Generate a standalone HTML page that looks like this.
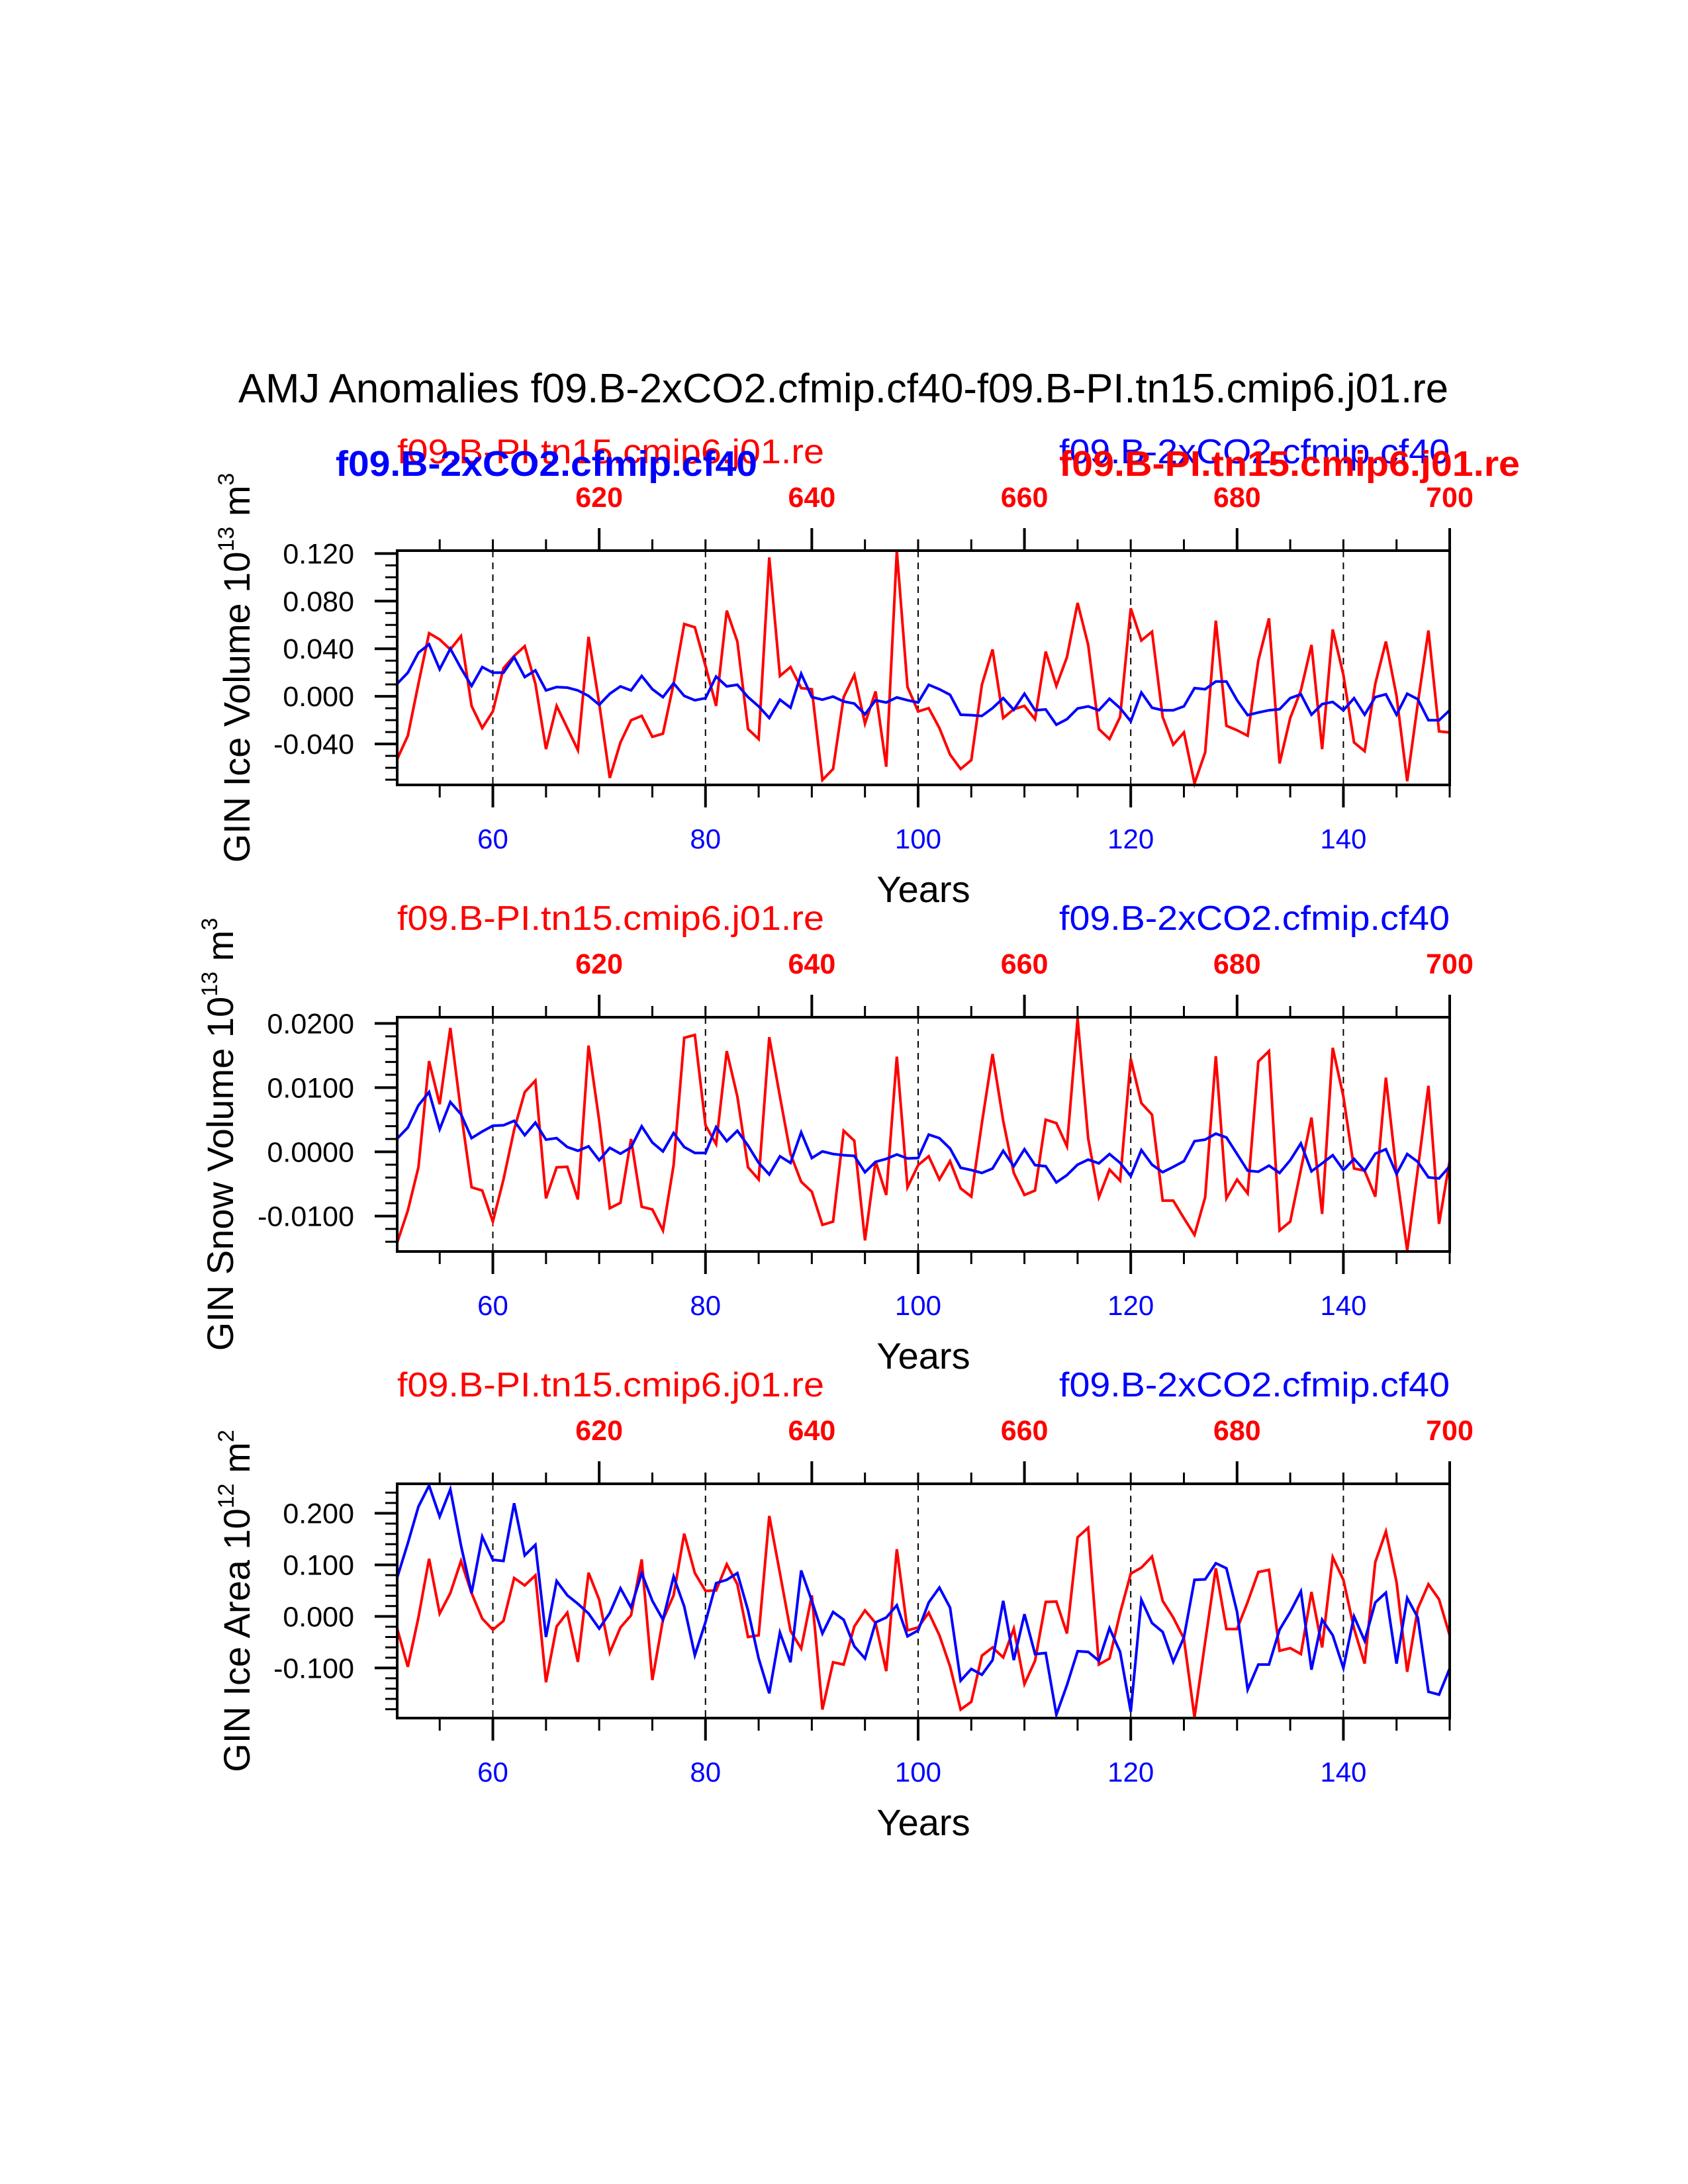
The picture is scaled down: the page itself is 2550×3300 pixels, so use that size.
<!DOCTYPE html>
<html><head><meta charset="utf-8"><title>AMJ Anomalies</title>
<style>html,body{margin:0;padding:0;background:#fff}svg{display:block}text{font-family:"Liberation Sans",Arial,sans-serif}</style>
</head><body>
<svg id="chart" xmlns="http://www.w3.org/2000/svg" width="2550" height="3300" viewBox="0 0 2550 3300">
<rect width="2550" height="3300" fill="#fff"/>
<text x="360" y="608" font-size="62" textLength="1828" lengthAdjust="spacingAndGlyphs">AMJ Anomalies f09.B-2xCO2.cfmip.cf40-f09.B-PI.tn15.cmip6.j01.re</text>
<g id="plots"></g>
</svg>
<script>
// ---- data (years 51..150 for 2xCO2; 601..700 for PI) ----
const yearsStart = 51;
const iceVolRed = [-0.0527,-0.0331,0.0106,0.0530,0.0478,0.0394,0.0506,-0.0080,-0.0266,-0.0127,0.0236,0.0339,0.0422,0.0106,-0.0443,-0.0080,-0.0266,-0.0452,0.0500,-0.0061,-0.0685,-0.0387,-0.0201,-0.0164,-0.0340,-0.0313,0.0106,0.0608,0.0580,0.0255,-0.0080,0.0720,0.0460,-0.0275,-0.0359,0.1167,0.0171,0.0246,0.0069,0.0060,-0.0703,-0.0610,-0.0006,0.0180,-0.0229,0.0041,-0.0591,0.1222,0.0078,-0.0127,-0.0099,-0.0266,-0.0489,-0.0610,-0.0536,0.0097,0.0394,-0.0182,-0.0108,-0.0080,-0.0192,0.0376,0.0087,0.0329,0.0785,0.0432,-0.0275,-0.0359,-0.0173,0.0739,0.0469,0.0543,-0.0173,-0.0406,-0.0303,-0.0731,-0.0471,0.0636,-0.0247,-0.0285,-0.0331,0.0301,0.0655,-0.0564,-0.0182,0.0050,0.0432,-0.0443,0.0562,0.0180,-0.0387,-0.0461,0.0106,0.0460,0.0004,-0.0713,-0.0061,0.0553,-0.0294,-0.0303];
const iceVolBlue = [0.0106,0.0199,0.0367,0.0437,0.0227,0.0400,0.0236,0.0087,0.0246,0.0199,0.0199,0.0329,0.0162,0.0218,0.0050,0.0078,0.0073,0.0050,0.0004,-0.0071,0.0022,0.0084,0.0050,0.0171,0.0060,-0.0006,0.0110,0.0004,-0.0033,-0.0015,0.0166,0.0084,0.0097,-0.0006,-0.0084,-0.0182,-0.0028,-0.0095,0.0190,-0.0006,-0.0028,-0.0002,-0.0043,-0.0061,-0.0151,-0.0033,-0.0052,-0.0009,-0.0033,-0.0052,0.0097,0.0060,0.0013,-0.0154,-0.0158,-0.0164,-0.0099,-0.0015,-0.0113,0.0022,-0.0117,-0.0110,-0.0238,-0.0192,-0.0102,-0.0084,-0.0117,-0.0020,-0.0099,-0.0210,0.0032,-0.0095,-0.0117,-0.0117,-0.0084,0.0069,0.0060,0.0125,0.0125,-0.0033,-0.0158,-0.0136,-0.0117,-0.0108,-0.0015,0.0017,-0.0154,-0.0065,-0.0047,-0.0117,-0.0015,-0.0154,-0.0006,0.0017,-0.0154,0.0022,-0.0024,-0.0201,-0.0201,-0.0117];
const snowRed = [-0.01414,-0.00914,-0.00241,0.01414,0.00741,0.01931,0.00621,-0.00552,-0.00603,-0.01086,-0.00431,0.00345,0.00931,0.01110,-0.00724,-0.00241,-0.00234,-0.00741,0.01655,0.00483,-0.00879,-0.00793,0.00200,-0.00855,-0.00897,-0.01224,-0.00207,0.01776,0.01821,0.00414,0.00121,0.01569,0.00862,-0.00241,-0.00431,0.01786,0.00862,-0.00034,-0.00466,-0.00621,-0.01138,-0.01086,0.00328,0.00172,-0.01379,-0.00145,-0.00672,0.01483,-0.00552,-0.00207,-0.00069,-0.00431,-0.00145,-0.00569,-0.00697,0.00448,0.01524,0.00483,-0.00328,-0.00672,-0.00603,0.00500,0.00448,0.00086,0.02076,0.00207,-0.00707,-0.00276,-0.00448,0.01448,0.00759,0.00579,-0.00759,-0.00759,-0.01034,-0.01293,-0.00707,0.01490,-0.00724,-0.00431,-0.00648,0.01407,0.01569,-0.01224,-0.01086,-0.00276,0.00534,-0.00966,0.01621,0.00862,-0.00259,-0.00293,-0.00697,0.01155,-0.00328,-0.01534,-0.00276,0.01028,-0.01121,-0.00138];
const snowBlue = [0.00207,0.00379,0.00724,0.00931,0.00352,0.00776,0.00586,0.00214,0.00317,0.00407,0.00414,0.00483,0.00259,0.00455,0.00190,0.00214,0.00076,0.00017,0.00086,-0.00131,0.00062,-0.00028,0.00069,0.00397,0.00145,0.00007,0.00293,0.00076,-0.00017,-0.00017,0.00386,0.00166,0.00328,0.00097,-0.00172,-0.00352,-0.00069,-0.00172,0.00303,-0.00097,0.00007,-0.00034,-0.00052,-0.00062,-0.00317,-0.00155,-0.00110,-0.00041,-0.00103,-0.00097,0.00269,0.00214,0.00052,-0.00248,-0.00283,-0.00328,-0.00259,0.00017,-0.00224,0.00041,-0.00207,-0.00224,-0.00476,-0.00362,-0.00200,-0.00121,-0.00179,-0.00034,-0.00172,-0.00379,0.00028,-0.00200,-0.00317,-0.00234,-0.00145,0.00166,0.00190,0.00283,0.00224,-0.00034,-0.00293,-0.00310,-0.00214,-0.00328,-0.00131,0.00131,-0.00303,-0.00179,-0.00052,-0.00283,-0.00110,-0.00293,-0.00028,0.00041,-0.00345,-0.00034,-0.00155,-0.00397,-0.00414,-0.00224];
const areaRed = [-0.0237,-0.0976,-0.0022,0.1118,0.0056,0.0452,0.1075,0.0452,-0.0043,-0.0258,-0.0086,0.0744,0.0602,0.0796,-0.1277,-0.0194,0.0073,-0.0882,0.0847,0.0323,-0.0701,-0.0215,0.0022,0.1105,-0.1234,-0.0065,0.0409,0.1604,0.0839,0.0495,0.0503,0.1011,0.0624,-0.0400,-0.0366,0.1948,0.0839,-0.0280,-0.0624,0.0409,-0.1806,-0.0890,-0.0933,-0.0194,0.0116,-0.0129,-0.1062,0.1303,-0.0271,-0.0215,0.0073,-0.0366,-0.0968,-0.1806,-0.1656,-0.0761,-0.0602,-0.0796,-0.0237,-0.1312,-0.0860,0.0280,0.0288,-0.0331,0.1535,0.1720,-0.0933,-0.0817,0.0065,0.0830,0.0946,0.1161,0.0301,-0.0022,-0.0430,-0.1957,-0.0495,0.0933,-0.0245,-0.0245,0.0280,0.0860,0.0903,-0.0667,-0.0615,-0.0731,0.0473,-0.0602,0.1148,0.0710,-0.0237,-0.0916,0.1054,0.1647,0.0667,-0.1075,0.0151,0.0624,0.0331,-0.0366];
const areaBlue = [0.0753,0.1419,0.2129,0.2538,0.1935,0.2465,0.1376,0.0452,0.1548,0.1097,0.1075,0.2194,0.1183,0.1389,-0.0400,0.0688,0.0409,0.0245,0.0056,-0.0237,0.0065,0.0546,0.0172,0.0839,0.0301,-0.0065,0.0774,0.0194,-0.0753,-0.0108,0.0645,0.0710,0.0839,0.0116,-0.0817,-0.1492,-0.0314,-0.0890,0.0890,0.0301,-0.0331,0.0086,-0.0065,-0.0581,-0.0817,-0.0116,-0.0022,0.0215,-0.0387,-0.0271,0.0271,0.0559,0.0172,-0.1247,-0.1019,-0.1131,-0.0847,0.0301,-0.0847,0.0043,-0.0731,-0.0710,-0.1905,-0.1333,-0.0675,-0.0688,-0.0860,-0.0228,-0.0688,-0.1849,0.0323,-0.0129,-0.0301,-0.0882,-0.0409,0.0710,0.0718,0.1032,0.0933,0.0086,-0.1419,-0.0933,-0.0933,-0.0258,0.0086,0.0486,-0.1032,-0.0065,-0.0366,-0.1002,0.0000,-0.0473,0.0271,0.0460,-0.0916,0.0357,-0.0022,-0.1462,-0.1518,-0.1011];
const bottomTickLabels = [60,80,100,120,140];
const topTickLabels = [620,640,660,680,700];
const p1YTicks = [-0.04,0,0.04,0.08,0.12];
const p2YTicks = [-0.01,0,0.01,0.02];
const p3YTicks = [-0.1,0,0.1,0.2];

const NS = "http://www.w3.org/2000/svg";
const root = document.getElementById('plots');
const X0 = 600, X1 = 2190, H = 354;
function xScale(yr){ return X0 + (yr - 51) / 99 * (X1 - X0); }
function xTop(yr){ return xScale(yr - 550); }
function mk(tag, attrs, parent){ const e = document.createElementNS(NS, tag); for (const k in attrs) e.setAttribute(k, attrs[k]); (parent||root).appendChild(e); return e; }

const panels = [
  {top:832, ymin:-0.0744, ymax:0.1224, ticks:p1YTicks, minorStep:0.01, dec:3, red:iceVolRed, blue:iceVolBlue, titleX:377, title:["GIN Ice Volume 10","13"," m","3"], name:"ice-volume", bold:true},
  {top:1537, ymin:-0.01552, ymax:0.02097, ticks:p2YTicks, minorStep:0.002, dec:4, red:snowRed, blue:snowBlue, titleX:352, title:["GIN Snow Volume 10","13"," m","3"], name:"snow-volume", bold:false},
  {top:2242, ymin:-0.1972, ymax:0.2572, ticks:p3YTicks, minorStep:0.02, dec:3, red:areaRed, blue:areaBlue, titleX:377, title:["GIN Ice Area 10","12"," m","2"], name:"ice-area", bold:false}
];

panels.forEach(function(p){
  const g = mk('g', {});
  
  
  const top = p.top, bot = top + H;
  const yScale = v => bot - (v - p.ymin) / (p.ymax - p.ymin) * H;

  bottomTickLabels.forEach(function(yr){
    const l = mk('line', {x1:xScale(yr), x2:xScale(yr), y1:top, y2:bot, stroke:'#000', 'stroke-width':2, 'stroke-dasharray':'10,8'}, g);
    
    
  });

  function series(vals, color, nm){
    let d = '';
    vals.forEach(function(v,i){ d += (i ? 'L' : 'M') + xScale(yearsStart + i).toFixed(1) + ',' + yScale(v).toFixed(1); });
    const path = mk('path', {d:d, fill:'none', stroke:color, 'stroke-width':4, 'stroke-linejoin':'miter'}, g);
    
    
  }
  series(p.red, '#ff0000', p.name + '-pi-line');
  series(p.blue, '#0000ff', p.name + '-2xco2-line');

  const fr = mk('rect', {x:X0, y:top, width:X1 - X0, height:H, fill:'none', stroke:'#000', 'stroke-width':4}, g);
  
  

  for (let yr = 55; yr <= 150; yr += 5){
    const major = yr % 20 === 0;
    mk('line', {x1:xScale(yr), x2:xScale(yr), y1:bot, y2:bot + (major ? 34 : 19), stroke:'#000', 'stroke-width':major ? 4 : 3}, g);
  }
  bottomTickLabels.forEach(function(yr){
    const t = mk('text', {x:xScale(yr), y:bot + 96, 'font-size':42, fill:'#0000ff', 'text-anchor':'middle'}, g);
    
    
    t.textContent = yr;
  });
  const yt = mk('text', {x:1395, y:bot + 177, 'font-size':56, 'text-anchor':'middle'}, g);
  
  
  yt.textContent = 'Years';

  for (let yr = 605; yr <= 700; yr += 5){
    const major = yr % 20 === 0;
    mk('line', {x1:xTop(yr), x2:xTop(yr), y1:top, y2:top - (major ? 34 : 17), stroke:'#000', 'stroke-width':major ? 4 : 3}, g);
  }
  topTickLabels.forEach(function(yr){
    const t = mk('text', {x:xTop(yr), y:top - 66, 'font-size':43, 'font-weight':'bold', fill:'#ff0000', 'text-anchor':'middle'}, g);
    
    
    t.textContent = yr;
  });

  const lr = mk('text', {x:600, y:top - 132, 'font-size':52, fill:'#ff0000', textLength:645, lengthAdjust:'spacingAndGlyphs'}, g);
  
  
  lr.textContent = 'f09.B-PI.tn15.cmip6.j01.re';
  const lb = mk('text', {x:1600, y:top - 132, 'font-size':52, fill:'#0000ff', textLength:590, lengthAdjust:'spacingAndGlyphs'}, g);
  
  
  lb.textContent = 'f09.B-2xCO2.cfmip.cf40';
  if (p.bold){
    const bb = mk('text', {x:507, y:top - 113, 'font-size':54, 'font-weight':'bold', fill:'#0000ff', textLength:637, lengthAdjust:'spacingAndGlyphs'}, g);
    
    
    bb.textContent = 'f09.B-2xCO2.cfmip.cf40';
    const rb = mk('text', {x:1600, y:top - 113, 'font-size':54, 'font-weight':'bold', fill:'#ff0000', textLength:696, lengthAdjust:'spacingAndGlyphs'}, g);
    
    
    rb.textContent = 'f09.B-PI.tn15.cmip6.j01.re';
  }

  const nMin = Math.ceil(p.ymin / p.minorStep - 1e-6), nMax = Math.floor(p.ymax / p.minorStep + 1e-6);
  for (let n = nMin; n <= nMax; n++){
    const v = n * p.minorStep, yy = yScale(v);
    mk('line', {x1:X0 - 18, x2:X0, y1:yy, y2:yy, stroke:'#000', 'stroke-width':3}, g);
  }
  p.ticks.forEach(function(v){
    const yy = yScale(v);
    mk('line', {x1:X0 - 34, x2:X0, y1:yy, y2:yy, stroke:'#000', 'stroke-width':4}, g);
    const t = mk('text', {x:535, y:yy + 15, 'font-size':43, 'text-anchor':'end'}, g);
    
    
    t.textContent = v.toFixed(p.dec);
  });

  const cy = top + H / 2;
  const tt = mk('text', {x:p.titleX, y:cy, 'font-size':56, 'text-anchor':'middle', transform:'rotate(-90 ' + p.titleX + ' ' + cy + ')'}, g);
  
  
  const s1 = mk('tspan', {}, tt); s1.textContent = p.title[0];
  const s2 = mk('tspan', {dy:-24, 'font-size':34}, tt); s2.textContent = p.title[1];
  const s3 = mk('tspan', {dy:24}, tt); s3.textContent = p.title[2];
  const s4 = mk('tspan', {dy:-24, 'font-size':34}, tt); s4.textContent = p.title[3];
});
</script>
</body></html>
